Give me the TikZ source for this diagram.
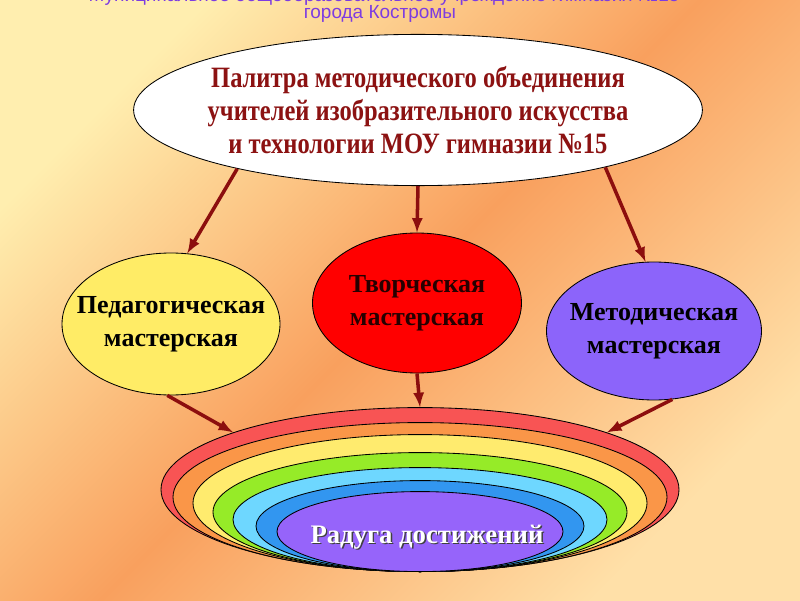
\documentclass[tikz,border=0pt]{standalone}
\usepackage{fontspec}
\setmainfont{Liberation Serif}
\setsansfont{Liberation Sans}
\newfontfamily\palfont[FakeStretch=0.83]{Liberation Serif}
\usetikzlibrary{positioning,shapes.geometric}
\definecolor{bgpale}{RGB}{255,238,175}
\definecolor{bgpaletwo}{RGB}{255,224,168}
\definecolor{bgorange}{RGB}{249,160,94}
\definecolor{headviolet}{RGB}{125,60,225}
\definecolor{titlered}{RGB}{140,18,18}
\definecolor{arrowred}{RGB}{140,14,14}
\definecolor{pedyellow}{RGB}{255,236,102}
\definecolor{tvorred}{RGB}{255,0,0}
\definecolor{metviolet}{RGB}{140,100,250}
\definecolor{rbred}{RGB}{248,84,84}
\definecolor{rborange}{RGB}{250,150,72}
\definecolor{rbyellow}{RGB}{255,235,110}
\definecolor{rbgreen}{RGB}{150,235,40}
\definecolor{rbcyan}{RGB}{110,215,255}
\definecolor{rbblue}{RGB}{50,150,240}
\definecolor{rbviolet}{RGB}{150,100,250}
\tikzset{oval/.style={ellipse,draw=black,line width=0.6pt,inner xsep=-0.5cm,inner ysep=0pt,align=center,font=\bfseries\fontsize{18.5}{23.5}\selectfont}}
\tikzset{band/.style={ellipse,draw=black,line width=0.6pt,inner sep=0pt,anchor=south}}
\tikzset{arr/.style={-latex,line width=2.5pt,draw=arrowred}}

\begin{document}
\begin{tikzpicture}
	\clip (0,0) rectangle (20,15);
	\shade[top color=bgpale,bottom color=bgpaletwo,middle color=bgorange,shading angle=45] (0,0) rectangle (20,15);
	% heading, cut off at the top
	\node[anchor=base,font=\sffamily\fontsize{13.5}{16}\selectfont,text=headviolet] (head1) at (9.6,14.95) {Муниципальное общеобразовательное учреждение гимназия №15};
	\node[anchor=base,font=\sffamily\fontsize{13.5}{16}\selectfont,text=headviolet] (head2) at (9.5,14.525) {города Костромы};
	% ovals
	\node[oval,fill=white,text=titlered,inner xsep=-1.5cm,minimum width=14.22cm,minimum height=3.78cm,font=\palfont\bfseries\fontsize{21}{23.5}\selectfont] (pal) at (10.45,12.25) {Палитра методического объединения\\учителей изобразительного искусства\\и технологии МОУ гимназии №15};
	\node[oval,fill=pedyellow,minimum width=5.45cm,minimum height=3.55cm] (ped) at (4.275,6.9) {Педагогическая\\мастерская};
	\node[oval,fill=tvorred,text=black!85!red,minimum width=5.225cm,minimum height=3.5cm] (tvor) at (10.425,7.425) {Творческая\\мастерская};
	\node[oval,fill=metviolet,minimum width=5.375cm,minimum height=3.45cm] (met) at (16.35,6.725) {Методическая\\мастерская};
	% rainbow
	\coordinate (base) at (10.5,0.7);
	\node[band,fill=rbred,minimum width=12.95cm,minimum height=4.1cm] (arc1) at (base) {};
	\node[band,fill=rborange,minimum width=12.35cm,minimum height=3.725cm] (arc2) at (base) {};
	\node[band,fill=rbyellow,minimum width=11.35cm,minimum height=3.425cm] (arc3) at (base) {};
	\node[band,fill=rbgreen,minimum width=10.35cm,minimum height=2.975cm] (arc4) at (base) {};
	\node[band,fill=rbcyan,minimum width=9.35cm,minimum height=2.6cm] (arc5) at (base) {};
	\node[band,fill=rbblue,minimum width=8.2cm,minimum height=2.275cm] (arc6) at (base) {};
	\node[band,fill=rbviolet,minimum width=7.15cm,minimum height=2cm] (arc7) at (base) {};
	\node[font=\bfseries\fontsize{19}{22}\selectfont,text=black!75] (radsh) at (10.71,1.545) {Радуга достижений};
	\node[font=\bfseries\fontsize{19}{22}\selectfont,text=white] (rad) at (10.675,1.575) {Радуга достижений};
	% arrows
	\draw[arr] (pal.198) -- (ped.77);
	\draw[arr] (pal.south) -- (tvor.north);
	\draw[arr] (pal.343) -- (met.97);
	\draw[arr] (ped.267) -- (arc1.163);
	\draw[arr] (tvor.south) -- (arc1.north);
	\draw[arr] (met.285) -- (arc1.17);
\end{tikzpicture}
\end{document}
